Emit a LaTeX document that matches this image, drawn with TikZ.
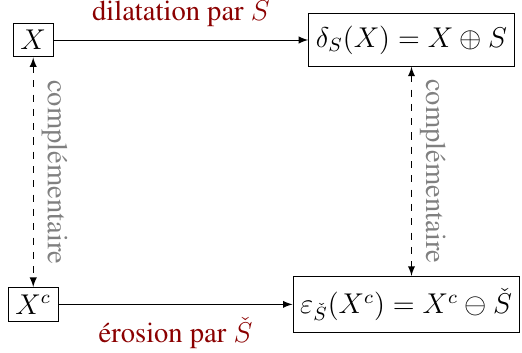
\documentclass[tikz,border=0pt]{standalone}
\usepackage[T1]{fontenc}
\renewcommand{\rmdefault}{ptm}
\usetikzlibrary{arrows}
\definecolor{rougefonce}{RGB}{139,0,0}
\tikzset{
  boite/.style={draw, inner sep=3pt},
  grandeboite/.style={draw, inner xsep=3pt, inner ysep=5pt},
  operation/.style={text=rougefonce},
  compl/.style={text=gray}
}
\begin{document}
\begin{tikzpicture}[font=\rmfamily\large]
  \useasboundingbox (0,0) rectangle (7.70,-5.20);
  % Ensembles
  \node[boite] (X) at (0.49,-0.59) {$X$};
  \node[grandeboite] (D) at (6.07,-0.59) {$\delta_S(X) = X \oplus S$};
  \node[boite] (Xc) at (0.49,-4.49) {$X^c$};
  \node[grandeboite] (E) at (5.99,-4.49) {$\varepsilon_{\check{S}}(X^c) = X^c \ominus \check{S}$};
  % Operations
  \draw[-latex] (X) -- (D) node[midway, above=2pt, operation] {dilatation par $S$};
  \draw[-latex] (Xc) -- (E) node[midway, below=2pt, operation] {\'erosion par $\check{S}$};
  % Complementaires
  \draw[latex-latex, dashed] (X) -- (Xc) node[midway, sloped, above, compl] {compl\'ementaire};
  \draw[latex-latex, dashed] (D.south) -- (D.south |- E.north) node[midway, sloped, above, compl] {compl\'ementaire};
\end{tikzpicture}
\end{document}
